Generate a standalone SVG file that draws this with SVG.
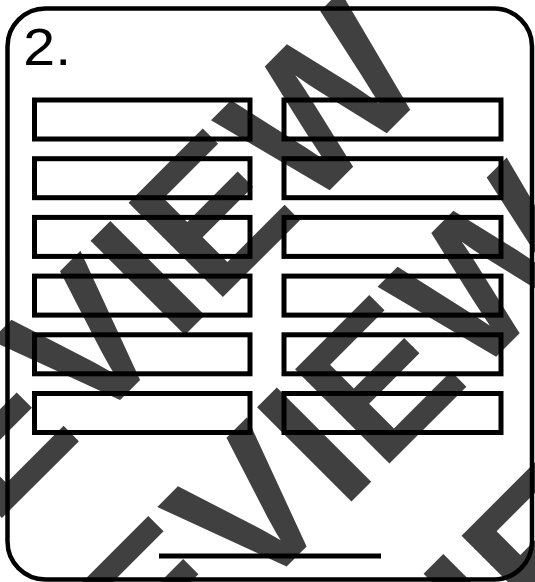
<svg xmlns="http://www.w3.org/2000/svg" width="535" height="582" viewBox="0 0 535 582">
<style>
.wm{font-family:"Liberation Sans",Arial,Helvetica,sans-serif;font-weight:bold;font-size:194px;fill:#404040}
.box{fill:none;stroke:#000;stroke-width:5}
.lbl{font-family:"Liberation Sans",Arial,Helvetica,sans-serif;font-size:52px;fill:#000}
</style>
<rect width="535" height="582" fill="#fff"/>
<g id="watermark" transform="rotate(-45)">
<text class="wm" x="-647.5" y="367.7">PREVIEW</text>
<text class="wm" x="-647.5" y="603.2">PREVIEW</text>
<text class="wm" x="-647.5" y="838.6">PREVIEW</text>
</g>
<g id="card">
<rect x="7.5" y="8.5" width="524.5" height="571" rx="38" fill="none" stroke="#000" stroke-width="4.5"/>
<text class="lbl" transform="translate(25,65) scale(1.1,1)" x="-1.5" y="0">2.</text>
</g>
<g id="left-boxes">
<g id="L1"><rect class="box" x="34.5" y="100" width="215.5" height="39"/></g>
<g id="L2"><rect class="box" x="34.5" y="158.7" width="215.5" height="39"/></g>
<g id="L3"><rect class="box" x="34.5" y="217.4" width="215.5" height="39"/></g>
<g id="L4"><rect class="box" x="34.5" y="276.1" width="215.5" height="39"/></g>
<g id="L5"><rect class="box" x="34.5" y="334.8" width="215.5" height="39"/></g>
<g id="L6"><rect class="box" x="34.5" y="393.5" width="215.5" height="39"/></g>
</g>
<g id="right-boxes">
<g id="R1"><rect class="box" x="284" y="100" width="217" height="39"/></g>
<g id="R2"><rect class="box" x="284" y="158.7" width="217" height="39"/></g>
<g id="R3"><rect class="box" x="284" y="217.4" width="217" height="39"/></g>
<g id="R4"><rect class="box" x="284" y="276.1" width="217" height="39"/></g>
<g id="R5"><rect class="box" x="284" y="334.8" width="217" height="39"/></g>
<g id="R6"><rect class="box" x="284" y="393.5" width="217" height="39"/></g>
</g>
<g id="connectors">
<line x1="159" y1="556" x2="381" y2="556" stroke="#000" stroke-width="5"/>
</g>
</svg>
